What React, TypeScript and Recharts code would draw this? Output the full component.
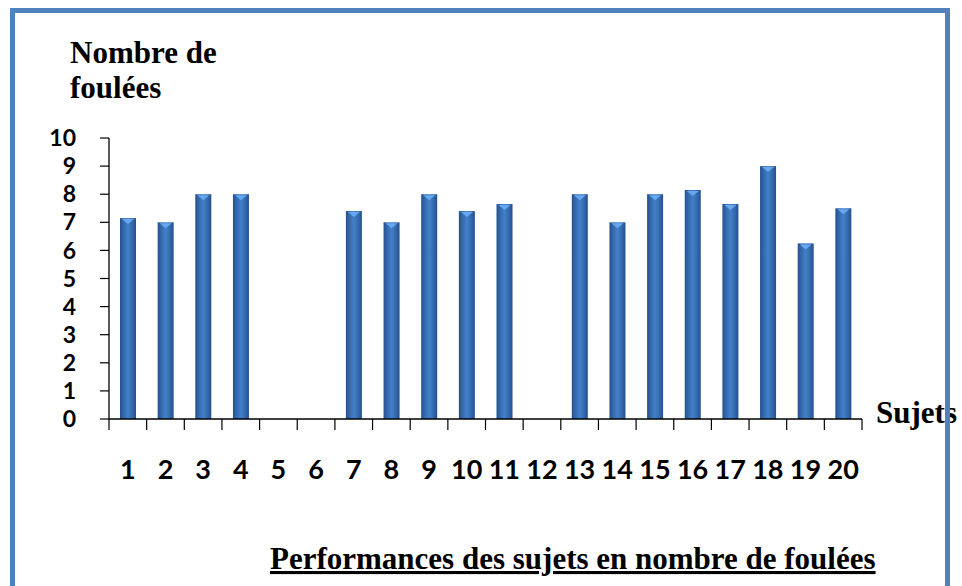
import React from 'react';
import { BarChart, Bar, XAxis, YAxis } from 'recharts';

const subjects = ['1', '2', '3', '4', '5', '6', '7', '8', '9', '10', '11', '12', '13', '14', '15', '16', '17', '18', '19', '20'];
const strides = [7.15, 7.0, 8.0, 8.0, null, null, 7.4, 7.0, 8.0, 7.4, 7.65, null, 8.0, 7.0, 8.0, 8.15, 7.65, 9.0, 6.25, 7.5];
const yTicks = [0, 1, 2, 3, 4, 5, 6, 7, 8, 9, 10];

const data = subjects.map((s, i) => ({ sujet: s, foulees: strides[i] }));

const serif = "'Liberation Serif', 'Times New Roman', serif";
const sans = "Lato, 'Open Sans', sans-serif";

const serifText: React.CSSProperties = { fontFamily: serif, fontWeight: 700, fontSize: 31 };

function BarShape(props: any) {
  const { x, y, width, height } = props;
  if (!height || height <= 0) return null;
  const cx = x + width / 2;
  return (
    <g>
      <rect x={x} y={y} width={width} height={height} fill="url(#barGrad)" />
      <path d={`M${x + 2},${y + 1} L${x + width - 2},${y + 1} L${cx},${y + 6} Z`} fill="#66a8ef" />
    </g>
  );
}

function XTick(props: any) {
  const { x, y, payload, index } = props;
  const off = payload.offset ?? (862 - 109) / subjects.length / 2;
  const last = index === subjects.length - 1;
  return (
    <g>
      <line x1={x - off} y1={y - 11} x2={x - off} y2={y} stroke="#000" strokeWidth={1.2} />
      {last && <line x1={x + off} y1={y - 11} x2={x + off} y2={y} stroke="#000" strokeWidth={1.2} />}
      <text x={x} y={y + 49} textAnchor="middle" fill="#000" style={{ fontFamily: sans, fontSize: 27, fontWeight: 700 }}>
        {payload.value}
      </text>
    </g>
  );
}

export default function App() {
  return (
    <div style={{ position: 'absolute', left: 0, top: 0, width: 962, height: 586, background: '#fff', overflow: 'hidden' }}>
      <BarChart width={962} height={586} data={data} margin={{ top: 138, right: 100, left: 0, bottom: 107 }}>
        <defs>
          <linearGradient id="barGrad" x1="0" y1="0" x2="1" y2="0">
            <stop offset="0%" stopColor="#23508c" />
            <stop offset="22%" stopColor="#3468ad" />
            <stop offset="50%" stopColor="#4380c8" />
            <stop offset="78%" stopColor="#3468ad" />
            <stop offset="100%" stopColor="#23508c" />
          </linearGradient>
        </defs>
        <XAxis
          dataKey="sujet"
          interval={0}
          height={60}
          tickSize={11}
          tickMargin={0}
          tickLine={false}
          axisLine={{ stroke: '#000', strokeWidth: 1.3 }}
          tick={<XTick />}
        />
        <YAxis
          width={109}
          domain={[0, 10]}
          ticks={yTicks}
          interval={0}
          tickSize={9}
          tickMargin={24}
          axisLine={{ stroke: '#000', strokeWidth: 1.3 }}
          tickLine={{ stroke: '#000', strokeWidth: 1.2 }}
          tick={{ fill: '#000', fontSize: 23, fontWeight: 700, fontFamily: sans }}
        />
        <Bar dataKey="foulees" barSize={16} shape={<BarShape />} isAnimationActive={false} />
      </BarChart>
      <svg width={962} height={586} style={{ position: 'absolute', left: 0, top: 0, pointerEvents: 'none' }}>
        <text x={70} y={63} fill="#000" style={serifText}>Nombre de</text>
        <text x={70} y={98} fill="#000" style={serifText}>foulées</text>
        <text x={876} y={423} fill="#000" style={serifText}>Sujets</text>
        <text x={270} y={569} fill="#000" style={{ ...serifText, textDecoration: 'underline' }}>
          Performances des sujets en nombre de foulées
        </text>
      </svg>
      <div
        style={{
          position: 'absolute',
          left: 10,
          top: 8,
          width: 930,
          height: 620,
          border: '5px solid #4f81bd',
          pointerEvents: 'none',
        }}
      />
    </div>
  );
}
